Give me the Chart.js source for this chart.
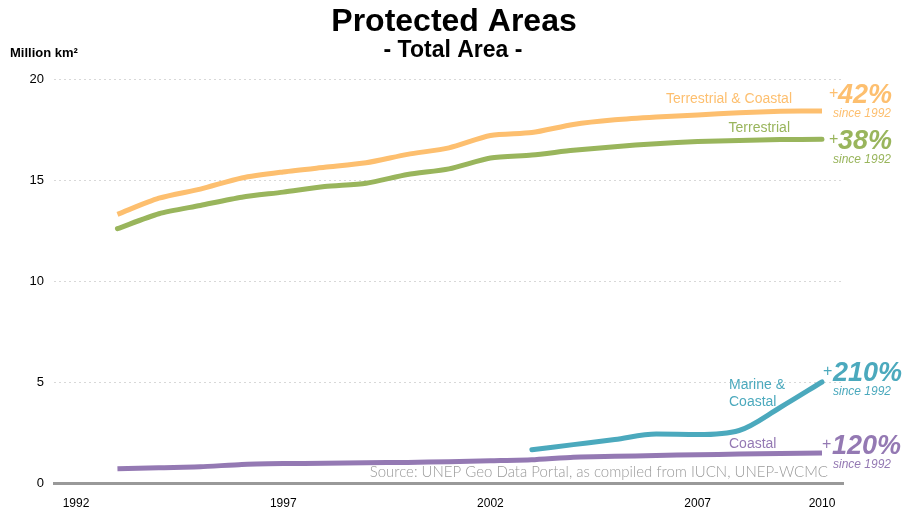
<!DOCTYPE html>
<html>
<head>
<meta charset="utf-8">
<script src="https://cdn.jsdelivr.net/npm/chart.js@4.4.1/dist/chart.umd.min.js"></script>
<style>
  html, body { margin: 0; padding: 0; background: #fff; }
  #wrap { width: 905px; height: 513px; }
</style>
</head>
<body>
<div id="wrap"><canvas id="chartCanvas" width="905" height="513"></canvas></div>
<script>
// Protected Areas – total area, million km2

const years = [1993, 1994, 1995, 1996, 1997, 1998, 1999, 2000, 2001, 2002,
               2003, 2004, 2005, 2006, 2007, 2008, 2009, 2010];

const terrCoastal = [13.3, 14.1, 14.55, 15.1, 15.4, 15.63, 15.85, 16.27, 16.59, 17.2,
                     17.35, 17.75, 17.98, 18.12, 18.22, 18.33, 18.4, 18.42];
const terrestrial = [12.59, 13.33, 13.74, 14.15, 14.4, 14.68, 14.84, 15.27, 15.55, 16.09,
                     16.24, 16.47, 16.65, 16.8, 16.9, 16.96, 17.0, 17.02];
const marineCoastal = [null, null, null, null, null, null, null, null, null, null,
                       1.65, 1.9, 2.15, 2.42, 2.4, 2.6, 3.75, 5.0];
const coastal = [0.7, 0.76, 0.8, 0.92, 0.96, 0.98, 1.0, 1.02, 1.05, 1.1,
                 1.15, 1.28, 1.32, 1.36, 1.4, 1.43, 1.46, 1.48];

const xTicks = [1992, 1997, 2002, 2007, 2010];
const yTicks = [0, 5, 10, 15, 20];

const growth = ["42%", "38%", "210%", "120%"];

// =========================
// Farben
// =========================
const cOrange = "#fdbf6f";
const cGreen = "#99b55c";
const cTeal = "#4ba9bd";
const cPurple = "#9479b3";

function points(vals) {
    return years.map((y, i) => ({ x: y, y: vals[i] }));
}

// =========================
// Texte (Titel, Beschriftungen)
// =========================
const textPlugin = {
    id: "texts",
    afterDraw(chart) {
        const ctx = chart.ctx;
        const ys = chart.scales.y;
        ctx.save();

        ctx.fillStyle = "#000";
        ctx.textAlign = "center";
        ctx.textBaseline = "alphabetic";
        ctx.font = "bold 32px 'Liberation Sans', Arial, sans-serif";
        ctx.fillText("Protected Areas", 454, 31);
        ctx.font = "bold 23px 'Liberation Sans', Arial, sans-serif";
        ctx.fillText("- Total Area -", 453, 57);

        ctx.textAlign = "left";
        ctx.font = "bold 13px 'Liberation Sans', Arial, sans-serif";
        ctx.fillText("Million km²", 10, 57);

        // Quelle
        ctx.textAlign = "right";
        ctx.fillStyle = "#9a9a9a";
        ctx.font = "300 15px Lato, sans-serif";
        ctx.fillText("Source: UNEP Geo Data Portal, as compiled from IUCN, UNEP-WCMC", 828, 477);

        // Serienbeschriftungen
        ctx.font = "14px 'Liberation Sans', Arial, sans-serif";
        ctx.fillStyle = cOrange;
        ctx.fillText("Terrestrial & Coastal", 792, 103);
        ctx.fillStyle = cGreen;
        ctx.fillText("Terrestrial", 790, 132);
        ctx.textAlign = "left";
        ctx.fillStyle = cTeal;
        ctx.fillText("Marine &", 729, 389);
        ctx.fillText("Coastal", 729, 406);
        ctx.fillStyle = cPurple;
        ctx.fillText("Coastal", 729, 448);

        // Zuwachs seit 1992
        const ends = [
            { v: terrCoastal, c: cOrange, dy: -8, px: 829, nx: 838 },
            { v: terrestrial, c: cGreen, dy: 10, px: 829, nx: 838 },
            { v: marineCoastal, c: cTeal, dy: -1, px: 823, nx: 833 },
            { v: coastal, c: cPurple, dy: 1, px: 822, nx: 832 }
        ];
        ends.forEach((e, i) => {
            const yy = ys.getPixelForValue(e.v[e.v.length - 1]) + e.dy;
            ctx.fillStyle = e.c;
            ctx.textAlign = "left";
            ctx.font = "16px 'Liberation Sans', Arial, sans-serif";
            ctx.fillText("+", e.px, yy - 5);
            ctx.font = "italic bold 27px 'Liberation Sans', Arial, sans-serif";
            ctx.fillText(growth[i], e.nx, yy);
            ctx.textAlign = "center";
            ctx.font = "italic 12px 'Liberation Sans', Arial, sans-serif";
            ctx.fillText("since 1992", 862, yy + 14);
        });

        ctx.restore();
    }
};

// =========================
// Diagramm
// =========================
const ctx = document.getElementById("chartCanvas").getContext("2d");

new Chart(ctx, {
    type: "line",
    data: {
        datasets: [
            { label: "Terrestrial & Coastal", data: points(terrCoastal), borderColor: cOrange,
              borderWidth: 5, tension: 0.25, pointRadius: 0, borderCapStyle: "butt" },
            { label: "Terrestrial", data: points(terrestrial), borderColor: cGreen,
              borderWidth: 5, tension: 0.25, pointRadius: 0, borderCapStyle: "round" },
            { label: "Marine & Coastal", data: points(marineCoastal), borderColor: cTeal,
              borderWidth: 5, cubicInterpolationMode: "monotone", pointRadius: 0, borderCapStyle: "round" },
            { label: "Coastal", data: points(coastal), borderColor: cPurple,
              borderWidth: 5, tension: 0.2, pointRadius: 0, borderCapStyle: "butt" }
        ]
    },
    options: {
        responsive: false,
        animation: false,
        layout: { padding: { top: 79, right: 62, left: 0, bottom: 0 } },
        plugins: {
            legend: { display: false },
            tooltip: { enabled: false }
        },
        scales: {
            x: {
                type: "linear",
                min: 1991.469,
                max: 2010.507,
                afterBuildTicks: s => { s.ticks = xTicks.map(v => ({ value: v })); },
                afterFit: s => { s.height = 30; },
                ticks: {
                    callback: v => String(v),
                    color: "#000",
                    padding: 13,
                    maxRotation: 0,
                    autoSkip: false,
                    font: { family: "'Liberation Sans', Arial, sans-serif", size: 12 }
                },
                grid: { drawOnChartArea: false, drawTicks: false },
                border: { display: true, color: "#999", width: 3 }
            },
            y: {
                min: 0,
                max: 20,
                afterBuildTicks: s => { s.ticks = yTicks.map(v => ({ value: v })); },
                afterFit: s => { s.width = 54; },
                ticks: {
                    color: "#000",
                    padding: 10,
                    font: { family: "'Liberation Sans', Arial, sans-serif", size: 13 }
                },
                grid: {
                    drawTicks: false,
                    lineWidth: 1,
                    color: c => (c.tick && c.tick.value === 0) ? "rgba(0,0,0,0)" : "#d8d8d8"
                },
                border: { display: false, dash: [2, 3] }
            }
        }
    },
    plugins: [textPlugin]
});
</script>
</body>
</html>
